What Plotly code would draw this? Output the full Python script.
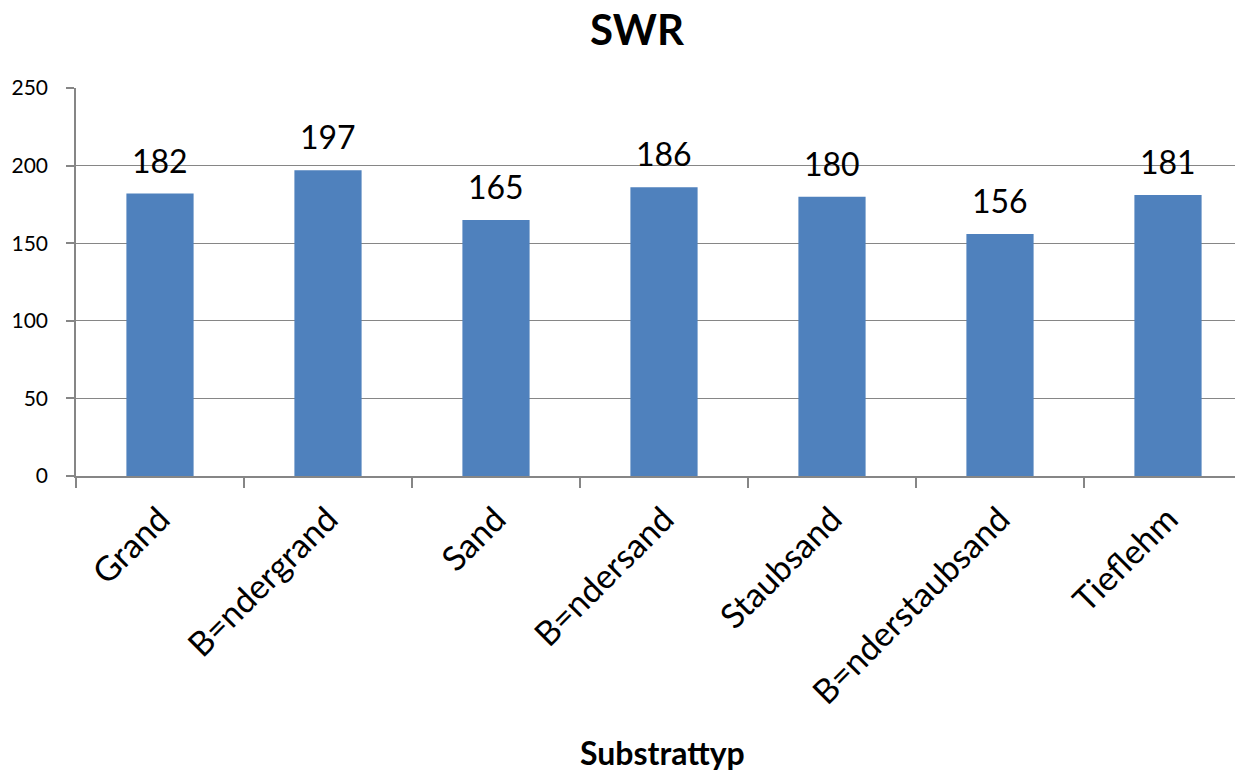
import plotly.graph_objects as go

categories = ["Grand", "B=ndergrand", "Sand", "B=ndersand", "Staubsand", "B=nderstaubsand", "Tieflehm"]
values = [182, 197, 165, 186, 180, 156, 181]
y_ticks = [0, 50, 100, 150, 200, 250]

FONT = "Lato, 'Open Sans', sans-serif"
W, H = 1235, 772
ML, MR, MT, MB = 76, 0, 88, 296
cat_px = 168.0
xmax = -0.5 + (W - ML - MR) / cat_px

fig = go.Figure()
fig.add_trace(go.Bar(
    x=categories, y=values,
    marker=dict(color="#4F81BD", line=dict(width=0)),
    width=0.4,
    hoverinfo="x+y",
))

for c, v in zip(categories, values):
    fig.add_annotation(x=c, y=v, text=str(v), showarrow=False,
                       yanchor="bottom", yshift=12,
                       font=dict(family=FONT, size=32, color="#000000"))

fig.add_annotation(xref="paper", yref="paper", x=(662 - ML) / (W - ML - MR), y=-(752 - 476) / (476 - 88),
                   text="<b>Substrattyp</b>", showarrow=False, xanchor="center", yanchor="middle",
                   font=dict(family=FONT, size=32, color="#000000"))

fig.update_layout(
    width=W, height=H,
    margin=dict(l=ML, r=MR, t=MT, b=MB, autoexpand=False),
    paper_bgcolor="white", plot_bgcolor="white",
    title=dict(text="<b>SWR</b>", x=637 / W, xref="container", xanchor="center",
               y=1 - 30 / H, yref="container", yanchor="middle",
               font=dict(family=FONT, size=42, color="#000000")),
    showlegend=False,
    font=dict(family=FONT, color="#000000"),
)
fig.update_xaxes(
    range=[-0.5, xmax], type="category",
    tickangle=-45, tickfont=dict(family=FONT, size=34, color="#000000"),
    showline=True, linecolor="#868686", linewidth=1.5,
    ticks="outside", tickson="boundaries", ticklen=10, tickcolor="#868686", tickwidth=1.5,
    ticklabelstandoff=8,
    showgrid=False, zeroline=False, fixedrange=True,
)
fig.update_yaxes(
    range=[0, 250], tickvals=y_ticks, ticktext=[str(t) for t in y_ticks],
    tickfont=dict(family=FONT, size=21, color="#000000"),
    showline=True, linecolor="#868686", linewidth=1.5,
    ticks="outside", ticklen=8, tickcolor="#868686", tickwidth=1.5,
    ticklabelstandoff=14,
    showgrid=True, gridcolor="#868686", gridwidth=1.2,
    zeroline=False, fixedrange=True,
)

fig.write_html("out.html", config={"displayModeBar": False},
               post_script="document.body.style.margin='0';document.body.style.overflow='hidden';")
